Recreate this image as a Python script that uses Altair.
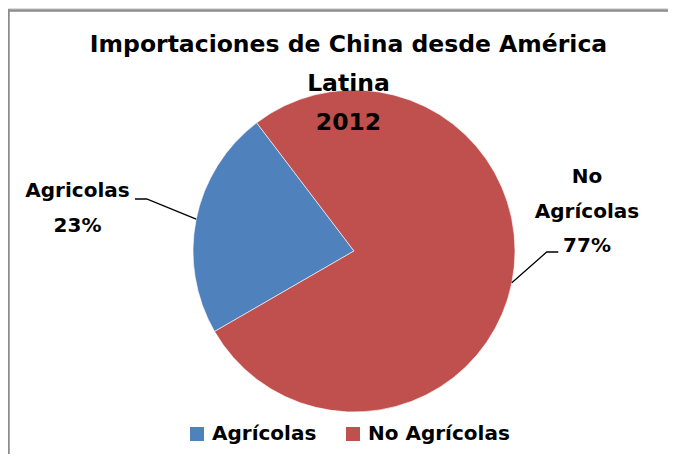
import altair as alt
import numpy as np
import pandas as pd

# ---------------- data ----------------
categories = ["Agrícolas", "No Agrícolas"]
shares = [23, 77]
label_names = ["Agricolas", "No\nAgrícolas"]
title_lines = ["Importaciones de China desde América", "Latina", "2012"]
colors = ["#4F81BD", "#C0504D"]

# ---------------- layout (pixels inside the plot area) ----------------
W, H = 660, 446
CX, CY, R = 346, 243, 161
START_DEG = 240
LABEL_POS = [(69.5, 189.3), (579, 175.3)]
LEADER_ELBOW = [(138.7, 191), (538.7, 244)]
LEADER_END = [(127, 191), (550.3, 244)]
FONT = "DejaVu Sans"

start = np.deg2rad(START_DEG)
total = float(sum(shares))

pie_df = pd.DataFrame({"categoria": categories, "valor": shares,
                       "orden": list(range(len(categories)))})

lead_rows = []
cum = 0.0
for i, (cat, v) in enumerate(zip(categories, shares)):
    mid = (cum + v / 2.0) / total
    cum += v
    a = start + 2 * np.pi * mid
    ex, ey = CX + R * np.sin(a), CY - R * np.cos(a)
    pts = [(ex, ey), LEADER_ELBOW[i], LEADER_END[i]]
    for k, (px, py) in enumerate(pts):
        lead_rows.append({"categoria": cat, "k": k, "px": px, "py": py})
lead_df = pd.DataFrame(lead_rows)

label_df = pd.DataFrame({
    "categoria": categories,
    "texto": [f"{n}\n{v}%" for n, v in zip(label_names, shares)],
    "px": [p[0] for p in LABEL_POS],
    "py": [p[1] for p in LABEL_POS],
})

pie = alt.Chart(pie_df).mark_arc(radius=R, stroke="#ffffff", strokeWidth=0.6).encode(
    theta=alt.Theta("valor:Q", stack=True,
                    scale=alt.Scale(domain=[0, total], range=[start, start + 2 * np.pi])),
    color=alt.Color("categoria:N",
                    scale=alt.Scale(domain=categories, range=colors),
                    legend=alt.Legend(title=None, orient="none", direction="horizontal",
                                      legendX=179, legendY=416,
                                      symbolType="square", symbolSize=196,
                                      symbolStrokeWidth=0, symbolOpacity=1,
                                      labelFont=FONT, labelFontSize=20,
                                      labelFontWeight="bold", labelColor="#000000",
                                      labelOffset=5, columnPadding=26,
                                      labelLimit=400)),
    order=alt.Order("orden:Q"),
    x=alt.value(CX),
    y=alt.value(CY),
)

leaders = alt.Chart(lead_df).mark_line(color="#000000", strokeWidth=1.3).encode(
    x=alt.X("px:Q", scale=None),
    y=alt.Y("py:Q", scale=None),
    detail="categoria:N",
    order="k:Q",
)

labels = alt.Chart(label_df).mark_text(
    font=FONT, fontSize=20, fontWeight="bold", color="#000000",
    align="center", baseline="alphabetic", lineBreak="\n", lineHeight=34.5,
).encode(
    x=alt.X("px:Q", scale=None),
    y=alt.Y("py:Q", scale=None),
    text="texto:N",
)

# chart frame: only its left and top edges fall inside the picture
frame_left = alt.Chart(pie_df).mark_rect(color="#8C8C8C", strokeWidth=0).encode(
    x=alt.value(-0.5), x2=alt.value(1.5), y=alt.value(1.5), y2=alt.value(H)
)
frame_top = alt.Chart(pie_df).mark_rect(color="#8C8C8C", strokeWidth=0).encode(
    x=alt.value(-0.5), x2=alt.value(W), y=alt.value(1.5), y2=alt.value(3.5)
)

chart = alt.layer(frame_left, frame_top, pie, leaders, labels).properties(
    width=W, height=H,
    autosize=alt.AutoSizeParams(type="none"),
    padding=0,
    title=alt.Title(title_lines, font=FONT, fontSize=23.5, fontWeight="bold",
                    color="#000000", anchor="middle", frame="group",
                    offset=0, baseline="alphabetic", lineHeight=39,
                    dx=10.5, dy=145),
).configure_view(strokeWidth=0).configure(background="#ffffff")

chart.save("out.html", embed_options={"renderer": "svg", "actions": False})
